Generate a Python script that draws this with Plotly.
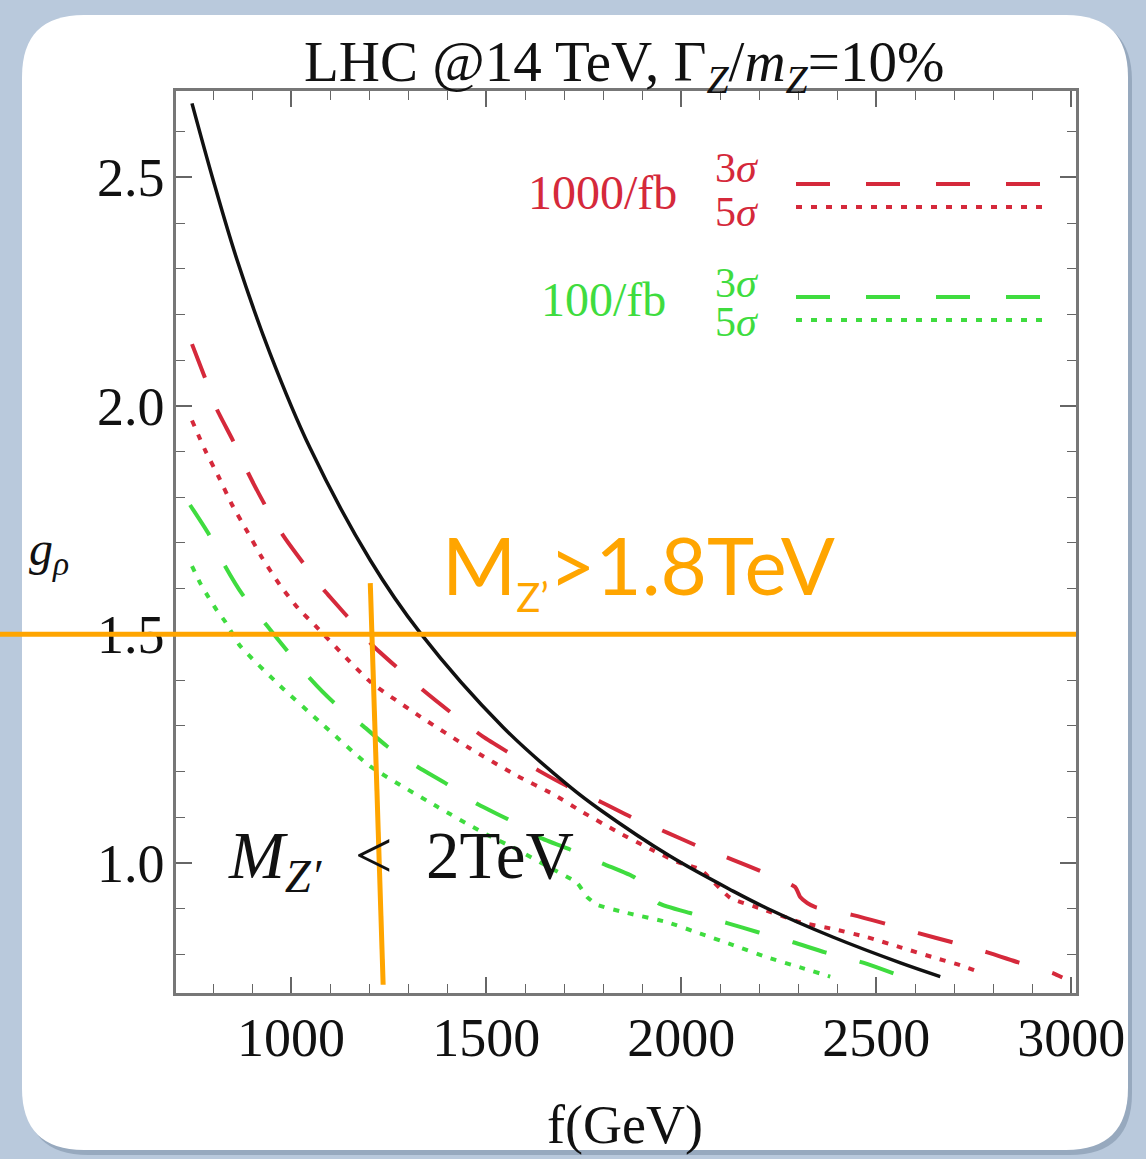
import plotly.graph_objects as go

# ---------------- data ----------------
F_RANGE = [705, 3012]
G_RANGE = [0.715, 2.689]

x_tickvals = [1000, 1500, 2000, 2500, 3000]
y_tickvals = [1.0, 1.5, 2.0, 2.5]
y_ticktext = ["1.0", "1.5", "2.0", "2.5"]

# g_rho(f) for Gamma_Z/m_Z = 10%
f_theory = [746, 800, 862, 946, 1049, 1203, 1331, 1544, 1715, 1792, 1972, 2133, 2221, 2390, 2562, 2664]
g_theory = [2.662, 2.495, 2.318, 2.115, 1.907, 1.662, 1.503, 1.296, 1.166, 1.116, 1.014, 0.938, 0.900, 0.837, 0.781, 0.751]

# 1000/fb, 3 sigma
f_1000_3s = [746, 779, 810, 851, 890, 933, 979, 1031, 1087, 1144, 1210, 1272, 1338, 1408, 1492, 1556, 1638,
             1705, 1797, 1874, 1964, 2041, 2131, 2208, 2292, 2305, 2323, 2344, 2438, 2518, 2608, 2695, 2785,
             2864, 2954, 2977]
g_1000_3s = [2.135, 2.062, 1.992, 1.924, 1.853, 1.783, 1.717, 1.656, 1.594, 1.539, 1.475, 1.427, 1.378, 1.330,
             1.276, 1.242, 1.200, 1.169, 1.132, 1.099, 1.066, 1.037, 1.007, 0.980, 0.947, 0.925, 0.912, 0.903,
             0.886, 0.868, 0.846, 0.826, 0.804, 0.782, 0.758, 0.749]

# 1000/fb, 5 sigma
f_1000_5s = [746, 779, 813, 849, 887, 926, 972, 1018, 1062, 1203, 1331, 1459, 1580, 1672, 1749, 1836, 1921,
             1990, 2049, 2126, 2203, 2305, 2390, 2477, 2562, 2646, 2715, 2772]
g_1000_5s = [1.968, 1.904, 1.847, 1.783, 1.726, 1.667, 1.607, 1.557, 1.519, 1.396, 1.320, 1.250, 1.190, 1.150,
             1.110, 1.068, 1.030, 1.002, 0.985, 0.923, 0.900, 0.870, 0.855, 0.837, 0.815, 0.793, 0.776, 0.758]

# 100/fb, 3 sigma
f_100_3s = [741, 787, 831, 877, 938, 990, 1049, 1108, 1185, 1246, 1326, 1400, 1479, 1556, 1638, 1715, 1805,
            1882, 1941, 2023, 2118, 2197, 2287, 2369, 2464, 2544]
g_100_3s = [1.783, 1.722, 1.649, 1.585, 1.519, 1.464, 1.403, 1.352, 1.299, 1.255, 1.209, 1.172, 1.128, 1.095,
            1.055, 1.029, 0.996, 0.967, 0.912, 0.890, 0.868, 0.848, 0.826, 0.804, 0.782, 0.758]

# 100/fb, 5 sigma
f_100_5s = [746, 767, 787, 810, 831, 869, 972, 1074, 1203, 1374, 1492, 1579, 1664, 1733, 1759, 1785, 1862,
            1964, 2049, 2133, 2221, 2305, 2382]
g_100_5s = [1.649, 1.612, 1.583, 1.552, 1.528, 1.475, 1.387, 1.308, 1.211, 1.123, 1.066, 1.029, 0.989, 0.956,
            0.925, 0.908, 0.890, 0.870, 0.845, 0.820, 0.793, 0.771, 0.751]

# hand-drawn bounds
g_mass_bound = 1.5
f_cut_line = [1203, 1236]
g_cut_line = [1.612, 0.733]

# ---------------- style ----------------
RED = "#d5293b"
GREEN = "#3fdc3f"
ORANGE = "#ffa500"
BLACK = "#111111"
SERIF = "Liberation Serif, Times New Roman, serif"

W, H = 1146, 1159
L, R, T, B = 176, 70, 91, 166
PW, PH = W - L - R, H - T - B


def px_x(px):
    return (px - L) / PW


def px_y(py):
    return (T + PH - py) / PH


def g_to_paper(g):
    return (g - G_RANGE[0]) / (G_RANGE[1] - G_RANGE[0])


def rounded_rect(x0, y0, x1, y1, r):
    return (f"M {px_x(x0 + r)},{px_y(y0)} L {px_x(x1 - r)},{px_y(y0)} "
            f"Q {px_x(x1)},{px_y(y0)} {px_x(x1)},{px_y(y0 + r)} "
            f"L {px_x(x1)},{px_y(y1 - r)} Q {px_x(x1)},{px_y(y1)} {px_x(x1 - r)},{px_y(y1)} "
            f"L {px_x(x0 + r)},{px_y(y1)} Q {px_x(x0)},{px_y(y1)} {px_x(x0)},{px_y(y1 - r)} "
            f"L {px_x(x0)},{px_y(y0 + r)} Q {px_x(x0)},{px_y(y0)} {px_x(x0 + r)},{px_y(y0)} Z")


DASH = "36px,34px"
DOT = "6px,9px"

fig = go.Figure()

fig.add_trace(go.Scatter(x=f_100_5s, y=g_100_5s, mode="lines", line_shape="spline",
                         line=dict(color=GREEN, width=4, dash=DOT, smoothing=0.5)))
fig.add_trace(go.Scatter(x=f_100_3s, y=g_100_3s, mode="lines", line_shape="spline",
                         line=dict(color=GREEN, width=4, dash=DASH, smoothing=0.5)))
fig.add_trace(go.Scatter(x=f_1000_5s, y=g_1000_5s, mode="lines", line_shape="spline",
                         line=dict(color=RED, width=4, dash=DOT, smoothing=0.5)))
fig.add_trace(go.Scatter(x=f_1000_3s, y=g_1000_3s, mode="lines", line_shape="spline",
                         line=dict(color=RED, width=4, dash=DASH, smoothing=0.5)))
fig.add_trace(go.Scatter(x=f_theory, y=g_theory, mode="lines", line_shape="spline",
                         line=dict(color=BLACK, width=3.5, smoothing=1.0)))

shapes = [
    # panel shadow and white rounded panel
    dict(type="path", xref="paper", yref="paper", layer="below",
         path=rounded_rect(26, 19, 1132, 1155, 62), fillcolor="#97a9be", line=dict(width=0)),
    dict(type="path", xref="paper", yref="paper", layer="below",
         path=rounded_rect(22, 15, 1128, 1150, 62), fillcolor="white", line=dict(width=0)),
    # legend samples
    dict(type="line", xref="paper", yref="paper", x0=px_x(796), x1=px_x(1045), y0=px_y(184), y1=px_y(184),
         line=dict(color=RED, width=4, dash="34px,36px")),
    dict(type="line", xref="paper", yref="paper", x0=px_x(796), x1=px_x(1045), y0=px_y(207), y1=px_y(207),
         line=dict(color=RED, width=4, dash=DOT)),
    dict(type="line", xref="paper", yref="paper", x0=px_x(796), x1=px_x(1045), y0=px_y(297), y1=px_y(297),
         line=dict(color=GREEN, width=4, dash="34px,36px")),
    dict(type="line", xref="paper", yref="paper", x0=px_x(796), x1=px_x(1045), y0=px_y(320), y1=px_y(320),
         line=dict(color=GREEN, width=4, dash=DOT)),
    # mass bounds
    dict(type="line", xref="paper", yref="paper", x0=px_x(0), x1=1.0,
         y0=g_to_paper(g_mass_bound), y1=g_to_paper(g_mass_bound),
         line=dict(color=ORANGE, width=5)),
    dict(type="line", xref="x", yref="y", x0=f_cut_line[0], x1=f_cut_line[1],
         y0=g_cut_line[0], y1=g_cut_line[1], line=dict(color=ORANGE, width=5)),
]

annotations = [
    dict(text="LHC @14 TeV, Γ<sub><i>Z</i></sub>/<i>m</i><sub><i>Z</i></sub>=10%",
         x=px_x(624), y=px_y(28), xanchor="center", yanchor="top",
         font=dict(family=SERIF, size=57, color=BLACK)),
    dict(text="f(GeV)", x=px_x(625), y=px_y(1125), xanchor="center", yanchor="middle",
         font=dict(family=SERIF, size=54, color=BLACK)),
    dict(text="<i>g</i><sub><i>ρ</i></sub>", x=px_x(27), y=px_y(552), xanchor="left", yanchor="middle",
         font=dict(family=SERIF, size=48, color=BLACK)),
    dict(text="1000/fb", x=px_x(602), y=px_y(193), xanchor="center", yanchor="middle",
         font=dict(family=SERIF, size=48, color=RED)),
    dict(text="3<i>σ</i>", x=px_x(737), y=px_y(168), xanchor="center", yanchor="middle",
         font=dict(family=SERIF, size=42, color=RED)),
    dict(text="5<i>σ</i>", x=px_x(737), y=px_y(212), xanchor="center", yanchor="middle",
         font=dict(family=SERIF, size=42, color=RED)),
    dict(text="100/fb", x=px_x(603), y=px_y(299), xanchor="center", yanchor="middle",
         font=dict(family=SERIF, size=48, color=GREEN)),
    dict(text="3<i>σ</i>", x=px_x(737), y=px_y(283), xanchor="center", yanchor="middle",
         font=dict(family=SERIF, size=42, color=GREEN)),
    dict(text="5<i>σ</i>", x=px_x(737), y=px_y(322), xanchor="center", yanchor="middle",
         font=dict(family=SERIF, size=42, color=GREEN)),
    dict(text="M<sub><span style='font-size:40px'>Z’</span></sub>&gt;1.8TeV", x=px_x(440), y=px_y(568),
         xanchor="left", yanchor="middle",
         font=dict(family="Lato, Open Sans, sans-serif", size=80, color=ORANGE)),
    dict(text="<i>M</i><sub><i>Z′</i></sub>\u2002&lt;\u20022TeV", x=px_x(226), y=px_y(860),
         xanchor="left", yanchor="middle",
         font=dict(family=SERIF, size=67, color=BLACK)),
]
for a in annotations:
    a.update(xref="paper", yref="paper", showarrow=False)

axis_common = dict(
    ticks="inside", ticklen=16, tickwidth=1.5, tickcolor="#666",
    showline=True, linecolor="#777", linewidth=2.5, mirror="ticks",
    showgrid=False, zeroline=False,
    tickfont=dict(family=SERIF, size=54, color=BLACK),
)

fig.update_layout(
    width=W, height=H,
    margin=dict(l=L, r=R, t=T, b=B, pad=0),
    paper_bgcolor="#b9c9dc",
    plot_bgcolor="white",
    showlegend=False,
    xaxis=dict(range=F_RANGE, tickvals=x_tickvals, ticklabelstandoff=-5,
               minor=dict(dtick=100, tick0=0, ticks="inside", ticklen=9, tickwidth=1.2, tickcolor="#666"),
               **axis_common),
    yaxis=dict(range=G_RANGE, tickvals=y_tickvals, ticktext=y_ticktext, ticklabelstandoff=-2,
               minor=dict(dtick=0.1, tick0=0, ticks="inside", ticklen=9, tickwidth=1.2, tickcolor="#666"),
               **axis_common),
    shapes=shapes,
    annotations=annotations,
)

fig.write_html("out.html")
